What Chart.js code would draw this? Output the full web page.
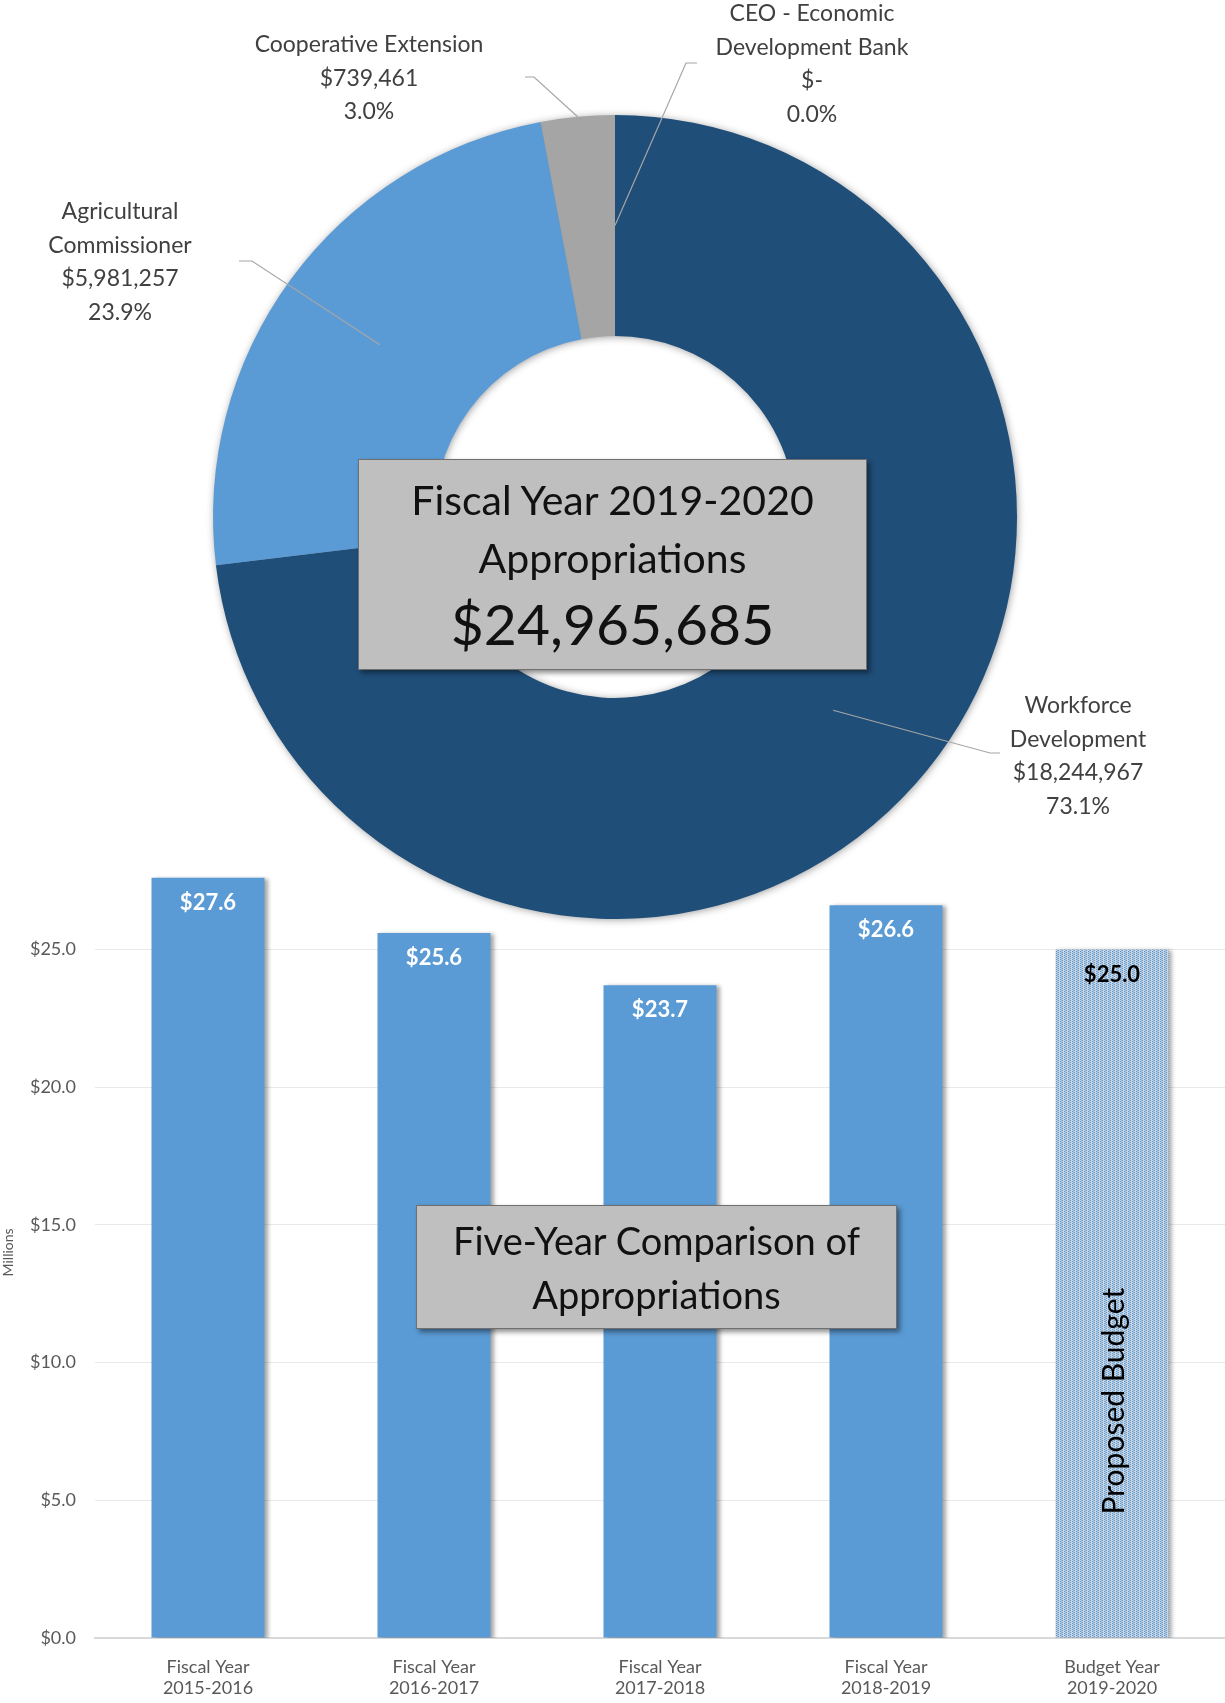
<!DOCTYPE html>
<html>
<head>
<meta charset="utf-8">
<script src="https://cdn.jsdelivr.net/npm/chart.js@4.4.1/dist/chart.umd.min.js"></script>
<style>
  body { margin: 0; background: #fff; font-family: Lato, "Open Sans", sans-serif; }
  #page { position: relative; width: 1225px; height: 1703px; overflow: hidden; }
  canvas { position: absolute; left: 0; }
  .box {
    position: absolute; background: #BFBFBF; border: 1.5px solid #6f6f6f;
    box-shadow: 3px 3px 5px rgba(0,0,0,0.45); color: #111;
    display: flex; flex-direction: column; align-items: center; justify-content: center;
    text-align: center; box-sizing: border-box;
  }
</style>
</head>
<body>
<div id="page">
  <canvas id="bars" width="1225" height="866" style="top:837px"></canvas>
  <canvas id="donut" width="1225" height="960" style="top:0"></canvas>

  <div class="box" style="left:358px; top:459px; width:509px; height:211px;">
    <div style="font-size:41px; line-height:58px;">Fiscal Year 2019-2020</div>
    <div style="font-size:41px; line-height:58px;">Appropriations</div>
    <div style="font-size:57px; line-height:72px;">$24,965,685</div>
  </div>

  <div class="box" style="left:416px; top:1205px; width:481px; height:124px;">
    <div style="font-size:38px; line-height:54px;">Five-Year Comparison of</div>
    <div style="font-size:38px; line-height:54px;">Appropriations</div>
  </div>
</div>

<script>
// donut: fiscal year 2019-2020 appropriations by department
const sliceNames = [["Workforce", "Development"], ["Agricultural", "Commissioner"], ["Cooperative Extension"], ["CEO - Economic", "Development Bank"]];
const sliceValues = [18244967, 5981257, 739461, 0];
const slicePercents = [73.1, 23.9, 3.0, 0.0];   // as printed on the chart
const sliceColors = ["#1F4E79", "#5B9BD5", "#A5A5A5", "#7F7F7F"];

// bars: five-year comparison (millions)
const yearLabels = [["Fiscal Year", "2015-2016"], ["Fiscal Year", "2016-2017"], ["Fiscal Year", "2017-2018"], ["Fiscal Year", "2018-2019"], ["Budget Year", "2019-2020"]];
const appropriations = [27.6, 25.6, 23.7, 26.6, 25.0];

// where each donut label sits and where its leader line bends
const labelSpots = [
  { x: 1078, y: 706, bend: [990, 753], end: [1000, 753], edge: false },
  { x: 120, y: 212, bend: [252, 261], end: [239, 261], edge: false },
  { x: 369, y: 45, bend: [534, 77], end: [525, 77], edge: true },
  { x: 812, y: 14, bend: [686, 63], end: [697, 63], edge: false }
];

function money(v) {
  return v === 0 ? "$-" : "$" + v.toLocaleString("en-US");
}

// soft shadow ring behind the donut
const donutShadow = {
  id: "donutShadow",
  beforeDatasetsDraw(chart) {
    const arc = chart.getDatasetMeta(0).data[0];
    const { x, y, innerRadius, outerRadius } = arc.getProps(["x", "y", "innerRadius", "outerRadius"]);
    const ctx = chart.ctx;
    ctx.save();
    ctx.shadowColor = "rgba(0,0,0,0.45)";
    ctx.shadowBlur = 9;
    ctx.shadowOffsetX = 1;
    ctx.shadowOffsetY = 1;
    ctx.fillStyle = "#888";
    ctx.beginPath();
    ctx.arc(x, y, outerRadius - 1, 0, Math.PI * 2);
    ctx.arc(x, y, innerRadius + 1, 0, Math.PI * 2, true);
    ctx.fill();
    ctx.restore();
  }
};

const donutLabels = {
  id: "donutLabels",
  afterDraw(chart) {
    const ctx = chart.ctx;
    const meta = chart.getDatasetMeta(0);
    meta.data.forEach((arc, i) => {
      const p = arc.getProps(["x", "y", "startAngle", "endAngle", "innerRadius", "outerRadius"]);
      const mid = (p.startAngle + p.endAngle) / 2;
      const spot = labelSpots[i];
      const r = spot.edge ? p.outerRadius : (p.innerRadius + p.outerRadius) / 2;
      ctx.save();
      ctx.strokeStyle = "#A6A6A6";
      ctx.lineWidth = 1.2;
      ctx.beginPath();
      ctx.moveTo(p.x + Math.cos(mid) * r, p.y + Math.sin(mid) * r);
      ctx.lineTo(spot.bend[0], spot.bend[1]);
      ctx.lineTo(spot.end[0], spot.end[1]);
      ctx.stroke();

      const lines = sliceNames[i].concat([money(sliceValues[i]), slicePercents[i].toFixed(1) + "%"]);
      ctx.fillStyle = "#404040";
      ctx.font = "23px Lato";
      ctx.textAlign = "center";
      ctx.textBaseline = "middle";
      lines.forEach((t, k) => ctx.fillText(t, spot.x, spot.y + k * 33.5));
      ctx.restore();
    });
  }
};

new Chart(document.getElementById("donut"), {
  type: "doughnut",
  data: {
    labels: sliceNames.map(n => n.join(" ")),
    datasets: [{ data: sliceValues, backgroundColor: sliceColors, borderWidth: 0 }]
  },
  options: {
    responsive: false,
    animation: false,
    cutout: "45%",
    layout: { padding: { left: 213, right: 208, top: 115, bottom: 41 } },
    plugins: { legend: { display: false }, tooltip: { enabled: false } }
  },
  plugins: [donutShadow, donutLabels]
});

// dotted fill for the proposed budget bar
function makePattern() {
  const c = document.createElement("canvas");
  c.width = 4; c.height = 4;
  const g = c.getContext("2d");
  g.fillStyle = "#CDD5DF";
  g.fillRect(0, 0, 4, 4);
  g.fillStyle = "#5B9BD5";
  g.fillRect(0, 0, 1, 1);
  g.fillRect(0, 2, 1, 1);
  g.fillRect(2, 1, 1, 1);
  g.fillRect(2, 3, 1, 1);
  g.fillStyle = "#9DBCDD";
  g.fillRect(1, 0, 1, 4);
  return g.createPattern(c, "repeat");
}
const budgetPattern = makePattern();

const barShadow = {
  id: "barShadow",
  beforeDatasetsDraw(chart) {
    const ctx = chart.ctx;
    ctx.save();
    ctx.shadowColor = "rgba(0,0,0,0.35)";
    ctx.shadowBlur = 4;
    ctx.shadowOffsetX = 3;
    ctx.shadowOffsetY = 1;
  },
  afterDatasetsDraw(chart) {
    chart.ctx.restore();
  }
};

const barLabels = {
  id: "barLabels",
  afterDatasetsDraw(chart) {
    const ctx = chart.ctx;
    const meta = chart.getDatasetMeta(0);
    const yScale = chart.scales.y;
    ctx.save();
    ctx.textAlign = "center";
    ctx.textBaseline = "middle";
    meta.data.forEach((bar, i) => {
      ctx.fillStyle = i === 4 ? "#000" : "#fff";
      ctx.font = "bold 22px Lato";
      ctx.fillText("$" + appropriations[i].toFixed(1), bar.x, bar.y + 25);
    });
    const last = meta.data[4];
    ctx.translate(last.x + 2, yScale.getPixelForValue(8.6));
    ctx.rotate(-Math.PI / 2);
    ctx.fillStyle = "#000";
    ctx.font = "30px Lato";
    ctx.fillText("Proposed Budget", 0, 0);
    ctx.restore();
  }
};

new Chart(document.getElementById("bars"), {
  type: "bar",
  data: {
    labels: yearLabels,
    datasets: [{
      data: appropriations,
      backgroundColor: c => c.dataIndex === 4 ? budgetPattern : "#5B9BD5",
      barPercentage: 0.5,
      categoryPercentage: 1.0
    }]
  },
  options: {
    responsive: false,
    animation: false,
    layout: { padding: { top: 5, right: 0, left: 0, bottom: 0 } },
    plugins: { legend: { display: false }, tooltip: { enabled: false } },
    scales: {
      x: {
        grid: { display: false },
        border: { color: "#D9D9D9", width: 2 },
        ticks: { color: "#595959", font: { family: "Lato", size: 18 }, padding: 10, maxRotation: 0 },
        afterFit: s => { s.height = 65; }
      },
      y: {
        min: 0,
        max: 28,
        afterBuildTicks: s => { s.ticks = s.ticks.filter(t => t.value % 5 === 0); },
        ticks: {
          stepSize: 5,
          color: "#595959",
          font: { family: "Lato", size: 18 },
          padding: 19,
          callback: v => "$" + Number(v).toFixed(1)
        },
        grid: { color: "#E9E9E9", drawTicks: false },
        border: { display: false },
        title: { display: true, text: "Millions", color: "#595959", font: { family: "Lato", size: 14 }, padding: { top: 0, bottom: 0 } },
        afterFit: s => { s.width = 95; }
      }
    }
  },
  plugins: [barShadow, barLabels]
});
</script>
</body>
</html>
